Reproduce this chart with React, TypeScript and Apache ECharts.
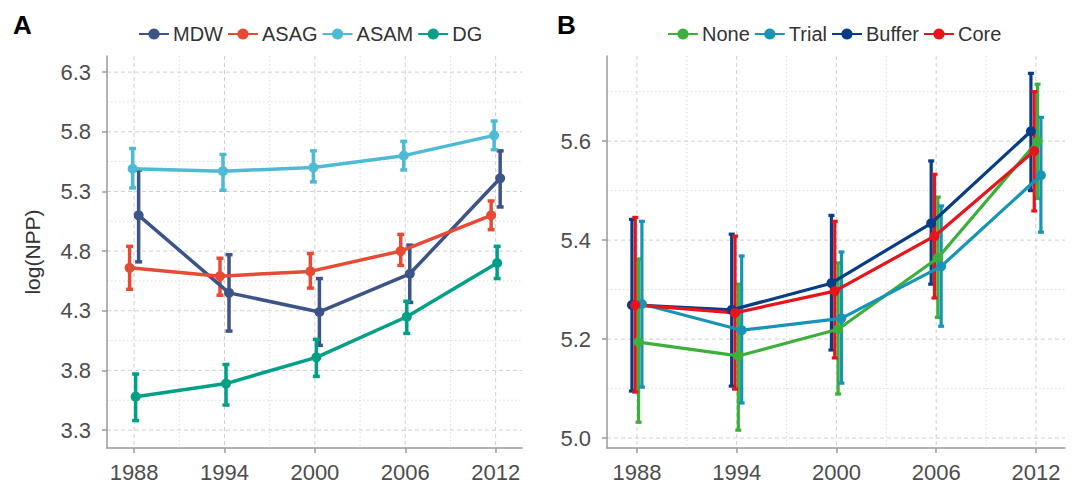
import React, { useEffect, useRef } from "react";
import * as echarts from "echarts";

// ---------- data ----------
const YEARS = [1988, 1994, 2000, 2006, 2012];

// Panel A
const A_NAMES = ["MDW", "ASAG", "ASAM", "DG"];
const MDW_MEAN = [5.1, 4.45, 4.29, 4.61, 5.41];
const MDW_LO = [4.71, 4.13, 4.01, 4.37, 5.17];
const MDW_HI = [5.48, 4.77, 4.57, 4.85, 5.64];
const ASAG_MEAN = [4.66, 4.59, 4.63, 4.8, 5.1];
const ASAG_LO = [4.48, 4.43, 4.49, 4.68, 4.98];
const ASAG_HI = [4.84, 4.74, 4.78, 4.94, 5.22];
const ASAM_MEAN = [5.49, 5.47, 5.5, 5.6, 5.77];
const ASAM_LO = [5.33, 5.31, 5.38, 5.48, 5.65];
const ASAM_HI = [5.66, 5.61, 5.64, 5.72, 5.89];
const DG_MEAN = [3.58, 3.69, 3.91, 4.25, 4.7];
const DG_LO = [3.38, 3.51, 3.75, 4.11, 4.57];
const DG_HI = [3.77, 3.85, 4.06, 4.38, 4.84];
const A_Y_TICKS = [3.3, 3.8, 4.3, 4.8, 5.3, 5.8, 6.3];
const A_Y_MINOR = [3.55, 4.05, 4.55, 5.05, 5.55, 6.05];

// Panel B
const B_NAMES = ["None", "Trial", "Buffer", "Core"];
const NONE_MEAN = [5.194, 5.166, 5.22, 5.364, 5.6];
const NONE_LO = [5.032, 5.016, 5.089, 5.244, 5.484];
const NONE_HI = [5.362, 5.311, 5.354, 5.487, 5.715];
const TRIAL_MEAN = [5.271, 5.218, 5.242, 5.347, 5.531];
const TRIAL_LO = [5.103, 5.071, 5.111, 5.226, 5.416];
const TRIAL_HI = [5.438, 5.368, 5.376, 5.469, 5.648];
const BUFFER_MEAN = [5.269, 5.259, 5.313, 5.434, 5.62];
const BUFFER_LO = [5.095, 5.105, 5.178, 5.311, 5.5];
const BUFFER_HI = [5.442, 5.412, 5.45, 5.56, 5.737];
const CORE_MEAN = [5.269, 5.253, 5.297, 5.408, 5.58];
const CORE_LO = [5.093, 5.099, 5.162, 5.283, 5.459];
const CORE_HI = [5.446, 5.408, 5.438, 5.533, 5.7];
const B_Y_TICKS = [5.0, 5.2, 5.4, 5.6];
const B_Y_MINOR = [5.1, 5.3, 5.5, 5.7];

const X_MINOR = [1991, 1997, 2003, 2009];

// ---------- styling / layout ----------
const FONT = "'Liberation Sans', Arial, Helvetica, sans-serif";
const X_MIN = 1986.2;
const X_MAX = 2013.75;
const A_Y_MIN = 3.15;
const A_Y_MAX = 6.435;
const B_Y_MIN = 4.98;
const B_Y_MAX = 5.772;

const A_COLORS: Record<string, string> = {
  MDW: "#3C5488",
  ASAG: "#E64B35",
  ASAM: "#4DBBD5",
  DG: "#00A087",
};
const B_COLORS: Record<string, string> = {
  None: "#3DB03C",
  Trial: "#1594B6",
  Buffer: "#073D86",
  Core: "#E8131B",
};
// position-dodge offsets (years)
const A_DODGE: Record<string, number> = { ASAG: -0.3, ASAM: -0.1, DG: 0.1, MDW: 0.3 };
const B_DODGE: Record<string, number> = { Buffer: -0.3, Core: -0.1, None: 0.1, Trial: 0.3 };

const A_SERIES: Record<string, number[][]> = {
  MDW: [MDW_MEAN, MDW_LO, MDW_HI],
  ASAG: [ASAG_MEAN, ASAG_LO, ASAG_HI],
  ASAM: [ASAM_MEAN, ASAM_LO, ASAM_HI],
  DG: [DG_MEAN, DG_LO, DG_HI],
};
const B_SERIES: Record<string, number[][]> = {
  None: [NONE_MEAN, NONE_LO, NONE_HI],
  Trial: [TRIAL_MEAN, TRIAL_LO, TRIAL_HI],
  Buffer: [BUFFER_MEAN, BUFFER_LO, BUFFER_HI],
  Core: [CORE_MEAN, CORE_LO, CORE_HI],
};

function gridSeries(idx: number, yMin: number, xVals: number[], yVals: number[], type: string, color: string, dash: number[]) {
  const data: number[][] = [];
  xVals.forEach((v) => data.push([v, yMin, 0]));
  yVals.forEach((v) => data.push([X_MIN, v, 1]));
  return {
    type: "custom",
    name: "grid-" + idx + "-" + type,
    xAxisIndex: idx,
    yAxisIndex: idx,
    silent: true,
    z: 0,
    encode: { x: 0, y: 1 },
    data,
    renderItem: (params: any, api: any) => {
      const cs = params.coordSys;
      const p = api.coord([api.value(0), api.value(1)]);
      const vertical = api.value(2) === 0;
      const shape = vertical
        ? { x1: p[0], y1: cs.y, x2: p[0], y2: cs.y + cs.height }
        : { x1: cs.x, y1: p[1], x2: cs.x + cs.width, y2: p[1] };
      return {
        type: "line",
        shape,
        style: { stroke: color, lineWidth: 1, lineDash: dash },
      };
    },
  };
}

function lineAndErr(idx: number, name: string, color: string, dodge: number, arr: number[][], lw: number, sym: number, cap: number) {
  const [mean, lo, hi] = arr;
  const pts = YEARS.map((y, i) => [y + dodge, mean[i]]);
  const errs = YEARS.map((y, i) => [y + dodge, lo[i], hi[i]]);
  return [
    {
      type: "custom",
      name: name + " err",
      xAxisIndex: idx,
      yAxisIndex: idx,
      z: 3,
      encode: { x: 0, y: [1, 2] },
      data: errs,
      renderItem: (params: any, api: any) => {
        const x = api.value(0);
        const a = api.coord([x, api.value(2)]);
        const b = api.coord([x, api.value(1)]);
        const st = { stroke: color, lineWidth: lw };
        return {
          type: "group",
          children: [
            { type: "line", shape: { x1: a[0], y1: a[1], x2: b[0], y2: b[1] }, style: st },
            { type: "line", shape: { x1: a[0] - cap, y1: a[1], x2: a[0] + cap, y2: a[1] }, style: st },
            { type: "line", shape: { x1: b[0] - cap, y1: b[1], x2: b[0] + cap, y2: b[1] }, style: st },
          ],
        };
      },
    },
    {
      type: "line",
      name,
      xAxisIndex: idx,
      yAxisIndex: idx,
      z: 4,
      data: pts,
      symbol: "circle",
      symbolSize: sym,
      showSymbol: true,
      itemStyle: { color },
      lineStyle: { color, width: lw },
    },
  ];
}

function xAxis(idx: number) {
  return {
    type: "value",
    gridIndex: idx,
    min: X_MIN,
    max: X_MAX,
    axisLine: { show: true, lineStyle: { color: "#9A9A9A", width: 1.5 } },
    axisTick: { show: true, customValues: YEARS, length: 5, lineStyle: { color: "#9A9A9A", width: 1.5 } },
    axisLabel: {
      customValues: YEARS,
      color: "#4D4D4D",
      fontSize: 22,
      fontFamily: FONT,
      margin: 13,
      formatter: (v: number) => String(Math.round(v)),
    },
    splitLine: { show: false },
  };
}

function yAxis(idx: number, min: number, max: number, ticks: number[], extra: any) {
  return {
    type: "value",
    gridIndex: idx,
    min,
    max,
    axisLine: { show: true, lineStyle: { color: "#9A9A9A", width: 1.5 } },
    axisTick: { show: true, customValues: ticks, length: 5, lineStyle: { color: "#9A9A9A", width: 1.5 } },
    axisLabel: {
      customValues: ticks,
      color: "#4D4D4D",
      fontSize: 22,
      fontFamily: FONT,
      margin: 16,
      formatter: (v: number) => v.toFixed(1),
    },
    splitLine: { show: false },
    ...extra,
  };
}

export default function App() {
  const ref = useRef<HTMLDivElement>(null);
  useEffect(() => {
    if (!ref.current) return;
    const chart = echarts.init(ref.current, null, { renderer: "svg" });
    const series: any[] = [];
    const MAJ = "#CFCFCF";
    const MIN = "#DCDCDC";
    series.push(gridSeries(0, A_Y_MIN, YEARS, A_Y_TICKS, "maj", MAJ, [4, 3]));
    series.push(gridSeries(0, A_Y_MIN, X_MINOR, A_Y_MINOR, "min", MIN, [1.5, 2.5]));
    series.push(gridSeries(1, B_Y_MIN, YEARS, B_Y_TICKS, "maj", MAJ, [4, 3]));
    series.push(gridSeries(1, B_Y_MIN, X_MINOR, B_Y_MINOR, "min", MIN, [1.5, 2.5]));
    A_NAMES.forEach((n) => series.push(...lineAndErr(0, n, A_COLORS[n], A_DODGE[n], A_SERIES[n], 3.5, 10, 3.5)));
    B_NAMES.forEach((n) => series.push(...lineAndErr(1, n, B_COLORS[n], B_DODGE[n], B_SERIES[n], 3.2, 10, 3)));

    const legendBase = {
      top: 19,
      itemWidth: 30,
      itemHeight: 14,
      itemGap: 4,
      textStyle: { fontSize: 20, color: "#333333", fontFamily: FONT, padding: [0, 0, 0, -1] },
    };

    chart.setOption({
      animation: false,
      backgroundColor: "#ffffff",
      textStyle: { fontFamily: FONT },
      grid: [
        { left: 107, right: 553, top: 56, bottom: 37 },
        { left: 607, right: 10, top: 56, bottom: 37 },
      ],
      legend: [
        { ...legendBase, data: A_NAMES, left: 133 },
        { ...legendBase, data: B_NAMES, left: 662 },
      ],
      graphic: [
        { type: "text", left: 13, top: 12, style: { text: "A", fontSize: 26, fontWeight: "bold", fill: "#000", fontFamily: FONT } },
        { type: "text", left: 557, top: 12, style: { text: "B", fontSize: 26, fontWeight: "bold", fill: "#000", fontFamily: FONT } },
      ],
      xAxis: [xAxis(0), xAxis(1)],
      yAxis: [
        yAxis(0, A_Y_MIN, A_Y_MAX, A_Y_TICKS, {
          name: "log(NPP)",
          nameLocation: "middle",
          nameGap: 64,
          nameRotate: 90,
          nameTextStyle: { fontSize: 21, color: "#333333", fontFamily: FONT },
        }),
        yAxis(1, B_Y_MIN, B_Y_MAX, B_Y_TICKS, {}),
      ],
      series,
    });
    return () => chart.dispose();
  }, []);
  return (
    <div
      ref={ref}
      style={{ position: "absolute", left: 0, top: 0, width: 1075, height: 485, background: "#fff" }}
    />
  );
}
